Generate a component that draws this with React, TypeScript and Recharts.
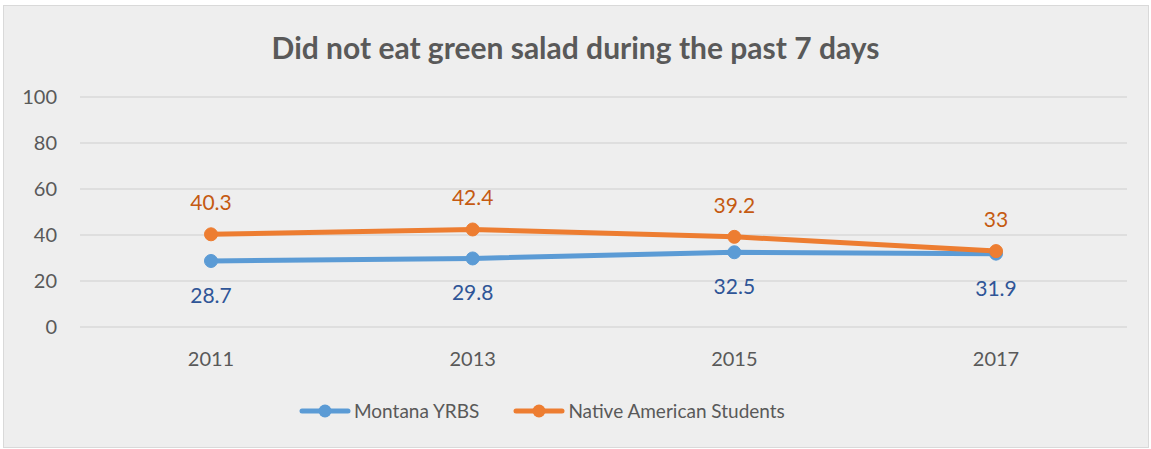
import React from 'react';
import { LineChart, Line, XAxis, YAxis, CartesianGrid, LabelList } from 'recharts';

const years = ['2011', '2013', '2015', '2017'];
const montana = [28.7, 29.8, 32.5, 31.9];
const nativeAmerican = [40.3, 42.4, 39.2, 33];
const yTicks = [0, 20, 40, 60, 80, 100];

const data = years.map((year, i) => ({
    year,
    montana: montana[i],
    native: nativeAmerican[i],
}));

const FONT = 'Lato, "Open Sans", sans-serif';
const BLUE = '#5b9bd5';
const ORANGE = '#ed7d31';

const legendItems = [
    { label: 'Montana YRBS', color: BLUE },
    { label: 'Native American Students', color: ORANGE },
];

const ChartLegend = () => (
    <div style={{ display: 'flex', gap: 34, fontFamily: FONT, fontSize: 19, color: '#595959', lineHeight: '22px' }}>
        {legendItems.map((item) => (
            <div key={item.label} style={{ display: 'flex', alignItems: 'center' }}>
                <svg width={52} height={16} style={{ marginRight: 3 }}>
                    <line x1={3} y1={8} x2={49} y2={8} stroke={item.color} strokeWidth={5} strokeLinecap="round" />
                    <circle cx={26} cy={8} r={6.5} fill={item.color} />
                </svg>
                <span>{item.label}</span>
            </div>
        ))}
    </div>
);

export default function App() {
    return (
        <div style={{ position: 'absolute', left: 0, top: 0, width: 1151, height: 449, background: '#fff' }}>
            <div
                style={{
                    position: 'absolute',
                    left: 3,
                    top: 5,
                    width: 1144,
                    height: 441,
                    background: '#eeeeee',
                    border: '1px solid #d9d9d9',
                }}
            />
            <div
                style={{
                    position: 'absolute',
                    left: 0,
                    top: 27,
                    width: 1151,
                    textAlign: 'center',
                    fontFamily: FONT,
                    fontWeight: 700,
                    fontSize: 30,
                    lineHeight: '40px',
                    color: '#595959',
                }}
            >
                Did not eat green salad during the past 7 days
            </div>
            <div style={{ position: 'absolute', left: 0, top: 0 }}>
                <LineChart width={1151} height={449} data={data} margin={{ top: 97, right: 24, bottom: 82, left: 0 }}>
                    <CartesianGrid vertical={false} stroke="#d9d9d9" strokeWidth={1.5} />
                    <XAxis
                        dataKey="year"
                        axisLine={false}
                        tickLine={false}
                        tickSize={0}
                        tickMargin={25}
                        height={40}
                        padding={{ left: 131, right: 131 }}
                        tick={{ fill: '#595959', fontSize: 20, fontFamily: FONT }}
                    />
                    <YAxis
                        width={80}
                        domain={[0, 100]}
                        ticks={yTicks}
                        axisLine={false}
                        tickLine={false}
                        tickSize={0}
                        tickMargin={23}
                        tick={{ fill: '#595959', fontSize: 20, fontFamily: FONT }}
                    />
                    <Line
                        dataKey="montana"
                        stroke={BLUE}
                        strokeWidth={5}
                        dot={{ r: 6.5, fill: BLUE, stroke: BLUE, strokeWidth: 1 }}
                        isAnimationActive={false}
                    >
                        <LabelList dataKey="montana" position="bottom" offset={27} fill="#2f5597" fontSize={21} fontFamily={FONT} />
                    </Line>
                    <Line
                        dataKey="native"
                        stroke={ORANGE}
                        strokeWidth={5}
                        dot={{ r: 6.5, fill: ORANGE, stroke: ORANGE, strokeWidth: 1 }}
                        isAnimationActive={false}
                    >
                        <LabelList dataKey="native" position="top" offset={24} fill="#c55a11" fontSize={21} fontFamily={FONT} />
                    </Line>
                </LineChart>
            </div>
            <div style={{ position: 'absolute', left: 299, top: 400 }}>
                <ChartLegend />
            </div>
        </div>
    );
}
